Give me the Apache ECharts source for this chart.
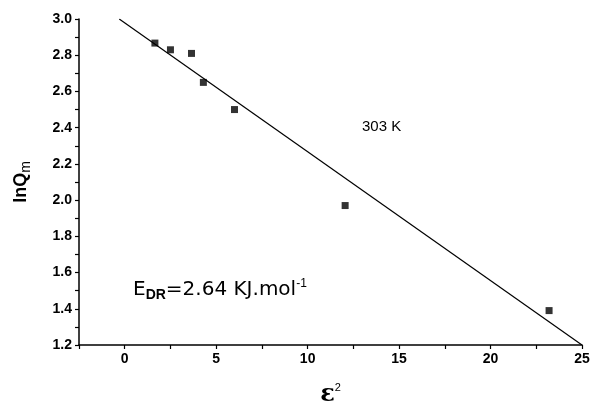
<!DOCTYPE html>
<html><head><meta charset="utf-8">
<script src="https://cdn.jsdelivr.net/npm/echarts@6/dist/echarts.min.js"></script>
<style>html,body{margin:0;padding:0;background:#fff}#c{width:595px;height:402px}</style>
</head><body><div id="c"></div>
<script>
const epsSq = [1.65, 2.5, 3.65, 4.3, 6.0, 12.05, 23.2];
const lnQm = [2.867, 2.83, 2.81, 2.65, 2.50, 1.97, 1.39];
const fitLine = [[-0.3, 3.0], [25, 1.2]];
const chart = echarts.init(document.getElementById('c'));
const F = 'Liberation Sans, Arial, sans-serif';
const D = 'DejaVu Sans, sans-serif';
chart.setOption({
  animation: false,
  grid: {left: 79, right: 13, top: 19, bottom: 57, containLabel: false, outerBoundsMode: 'none'},
  xAxis: {
    type: 'value', min: -2.5, max: 25, interval: 2.5,
    axisLine: {onZero: false, lineStyle: {color: '#000', width: 1.5}},
    axisTick: {show: true, length: 4, lineStyle: {color: '#000', width: 1.2}},
    splitLine: {show: false},
    axisLabel: {fontFamily: F, fontWeight: 'bold', fontSize: 14, color: '#000', margin: 7,
      formatter: v => (Math.abs(v % 5) < 1e-9 ? String(v) : '')},
    name: '{e|ε}{s|2}', nameLocation: 'middle', nameGap: 37,
    nameTextStyle: {rich: {
      e: {fontFamily: 'DejaVu Serif, serif', fontWeight: 'bold', fontSize: 24, color: '#000'},
      s: {fontFamily: F, fontSize: 11, color: '#000', verticalAlign: 'top', padding: [0,0,14,0]}
    }}
  },
  yAxis: {
    type: 'value', min: 1.2, max: 3.0, interval: 0.1,
    axisLine: {show: true, onZero: false, lineStyle: {color: '#000', width: 1.5}},
    axisTick: {show: true, length: 4, lineStyle: {color: '#000', width: 1.2}},
    splitLine: {show: false},
    axisLabel: {fontFamily: F, fontWeight: 'bold', fontSize: 14, color: '#000', margin: 7,
      formatter: v => { const k = Math.round(v * 10); return k % 2 === 0 ? (k/10).toFixed(1) : ''; }},
    name: '{a|lnQ}{b|m}', nameLocation: 'middle', nameGap: 46, nameRotate: 90,
    nameTextStyle: {rich: {
      a: {fontFamily: F, fontWeight: 'bold', fontSize: 18, color: '#000'},
      b: {fontFamily: F, fontSize: 14, color: '#000', padding: [10,0,0,0]}
    }}
  },
  series: [
    {type: 'scatter', data: epsSq.map((x, i) => [x, lnQm[i]]), symbol: 'rect', symbolSize: 7,
      itemStyle: {color: '#000'}, z: 3},
    {type: 'line', data: fitLine, showSymbol: false, symbol: 'none',
      lineStyle: {color: '#000', width: 1.2}, z: 2}
  ],
  graphic: [
    {type: 'text', left: 362, top: 119, style: {text: '303 K', font: '15px ' + F, fill: '#000'}},
    {type: 'text', left: 133, top: 278, style: {
      text: '{a|E}{b|DR}{a|=2.64 KJ.mol}{c|-1}',
      rich: {
        a: {fontFamily: D, fontSize: 20, fill: '#000'},
        b: {fontFamily: F, fontSize: 14, fontWeight: 'bold', fill: '#000', padding: [11,0,0,0]},
        c: {fontFamily: F, fontSize: 12, fill: '#000', padding: [0,0,11,0]}
      }
    }}
  ]
});
</script></body></html>
